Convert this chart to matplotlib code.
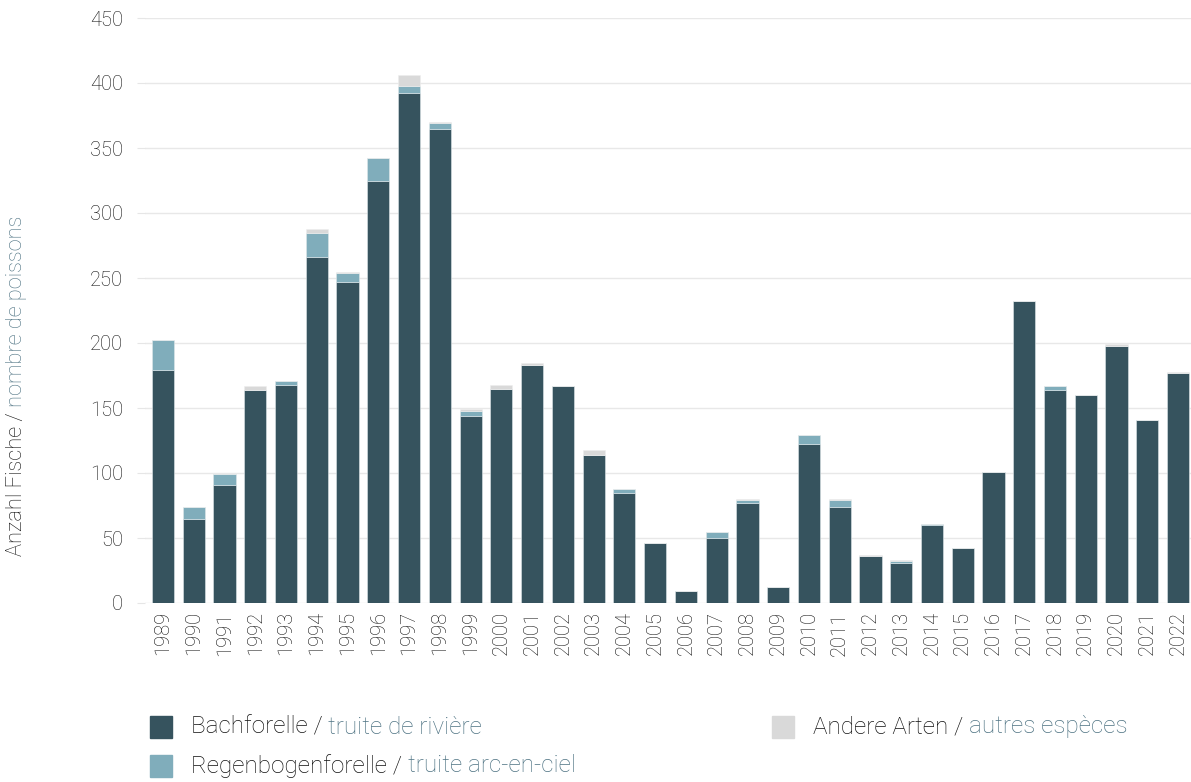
import matplotlib
matplotlib.use('Agg')
import matplotlib.pyplot as plt
from matplotlib.patches import Rectangle
import numpy as np

plt.rcParams['font.family'] = ['Roboto', 'DejaVu Sans']
plt.rcParams['font.weight'] = 'light'

years = [str(y) for y in range(1989, 2023)]
bachforelle = [179, 65, 91, 164, 168, 266, 247, 325, 392, 365, 144, 165, 183, 167, 114, 85, 46,
               9, 50, 77, 12, 122, 74, 36, 31, 60, 42, 101, 232, 164, 160, 198, 141, 177]
regenbogen = [23, 9, 8, 0, 3, 19, 7, 17, 6, 4, 4, 0, 0, 0, 0, 3, 0,
              0, 5, 2, 0, 7, 5, 0, 1, 1, 0, 0, 0, 3, 0, 0, 0, 0]
andere = [0, 0, 0, 3, 0, 3, 1, 0, 8, 1, 1, 3, 2, 0, 4, 0, 0,
          0, 0, 1, 0, 0, 1, 1, 1, 0, 0, 0, 0, 0, 0, 1, 0, 1]

c_bach = '#36535e'
c_regen = '#80adbb'
c_andere = '#d9d9d9'
c_dark = '#111111'
c_fr = '#4d7282'

fig = plt.figure(figsize=(11.91, 7.82), dpi=100)
ax = fig.add_axes([145 / 1191, 179 / 782, 1046 / 1191, 585 / 782])

x = np.arange(len(years))
b1 = np.array(bachforelle)
b2 = np.array(regenbogen)
b3 = np.array(andere)
w = 0.72
ax.bar(x, b1, w, color=c_bach, edgecolor='#dfe7ea', linewidth=0.4, zorder=3)
ax.bar(x, b2, w, bottom=b1, color=c_regen, edgecolor='#dfe7ea', linewidth=0.4, zorder=3)
ax.bar(x, b3, w, bottom=b1 + b2, color=c_andere, edgecolor='#eeeeee', linewidth=0.4, zorder=3)

ax.set_ylim(0, 450)
ax.set_xlim(-0.585, 33.42)
ax.set_yticks(range(0, 451, 50))
ax.set_xticks(x)
ax.set_xticklabels(years, rotation=90, fontsize=14.5, color=c_dark)
ax.tick_params(axis='y', labelsize=14.5, labelcolor=c_dark, length=6, color='#e6e6e6', pad=10)
ax.tick_params(axis='x', length=0, pad=6)
ax.yaxis.grid(True, color='#e8e8e8', linewidth=1, zorder=0)
for s in ax.spines.values():
    s.set_visible(False)

fig.canvas.draw()
renderer = fig.canvas.get_renderer()


def two_color(px, py, parts, size, rotation=0):
    # draw text pieces one after another in figure pixel coordinates
    for txt, col in parts:
        t = fig.text(px / 1191, 1 - py / 782, txt, color=col, fontsize=size, rotation=rotation,
                     ha='left', va='center' if rotation == 0 else 'bottom',
                     rotation_mode='anchor')
        bb = t.get_window_extent(renderer)
        if rotation == 0:
            px += bb.width
        else:
            py -= bb.height


two_color(27, 556, [('Anzahl Fische / ', c_dark), ('nombre de poissons', c_fr)], 15.7, rotation=90)

legend = [('Bachforelle / ', 'truite de rivière', c_bach, 150, 727),
          ('Regenbogenforelle / ', 'truite arc-en-ciel', c_regen, 150, 766),
          ('Andere Arten / ', 'autres espèces', c_andere, 772, 727)]
for de, fr, col, lx, ly in legend:
    fig.patches.append(Rectangle((lx / 1191, 1 - (ly + 11) / 782), 22 / 1191, 22 / 782,
                                 transform=fig.transFigure, color=col))
    two_color(lx + 41, ly, [(de, c_dark), (fr, c_fr)], 17.5)

fig.savefig('out.png', dpi=100)
